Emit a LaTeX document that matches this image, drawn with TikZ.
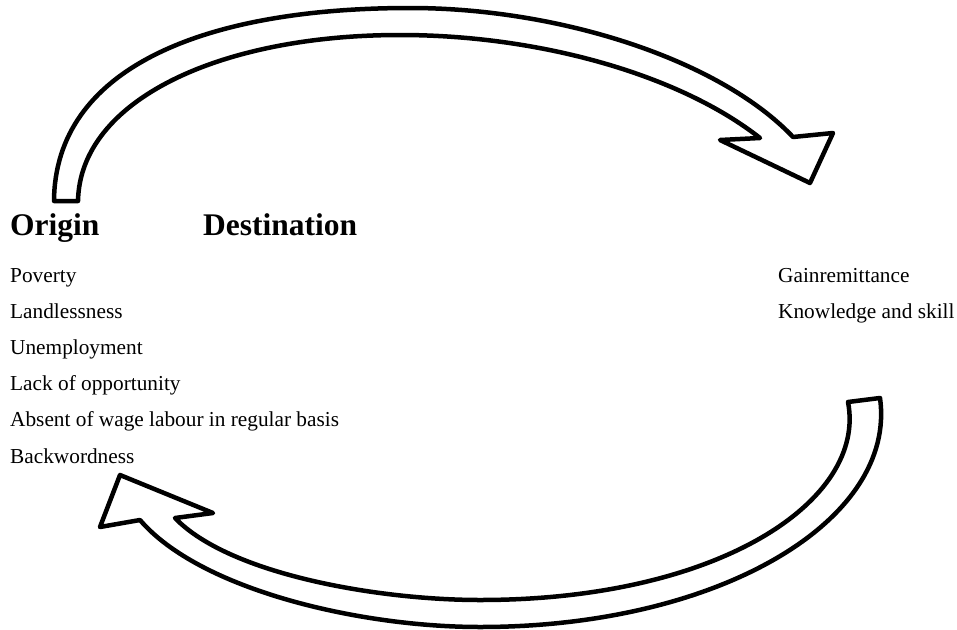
\documentclass[tikz,border=0pt]{standalone}
\usepackage{fontspec}
\setmainfont{Liberation Serif}
\begin{document}
\begin{tikzpicture}[x=1pt,y=-1pt,
  bigarrow/.style={draw=black,fill=white,line width=4.5pt,line join=round},
  heading/.style={anchor=base west,inner sep=0pt,font=\fontsize{31.5}{36}\selectfont\bfseries},
  item/.style={anchor=base west,inner sep=0pt,font=\fontsize{21.3}{25}\selectfont}]
\useasboundingbox (0,0) rectangle (957,629);
% top arrow (origin -> destination)
\draw[bigarrow] (54,201) .. controls (55,70) and (200,8) .. (410,8)
  .. controls (560,8) and (720,60) .. (793,137)
  -- (833,133) -- (810,183) -- (720,140) -- (760,138)
  .. controls (680,75) and (540,35) .. (400,35)
  .. controls (220,35) and (80,100) .. (78,201) -- cycle;
% bottom arrow (destination -> origin)
\draw[bigarrow] (880,398) .. controls (897,520) and (720,627) .. (480,627)
  .. controls (360,627) and (200,590) .. (140,520)
  -- (100,527) -- (120,475) -- (213,513) -- (175,518)
  .. controls (230,575) and (380,600) .. (480,600)
  .. controls (720,600) and (867,500) .. (848,402) -- cycle;
% texts
\node[heading] (origin) at (10,235) {Origin};
\node[heading] (dest) at (203,235) {Destination};
\node[item] (o1) at (10,282) {Poverty};
\node[item] (o2) at (10,318.2) {Landlessness};
\node[item] (o3) at (10,354.4) {Unemployment};
\node[item] (o4) at (10,390.6) {Lack of opportunity};
\node[item] (o5) at (10,426.8) {Absent of wage labour in regular basis};
\node[item] (o6) at (10,463) {Backwordness};
\node[item] (d1) at (778,282) {Gainremittance};
\node[item] (d2) at (778,318.2) {Knowledge and skill};
\end{tikzpicture}
\end{document}
